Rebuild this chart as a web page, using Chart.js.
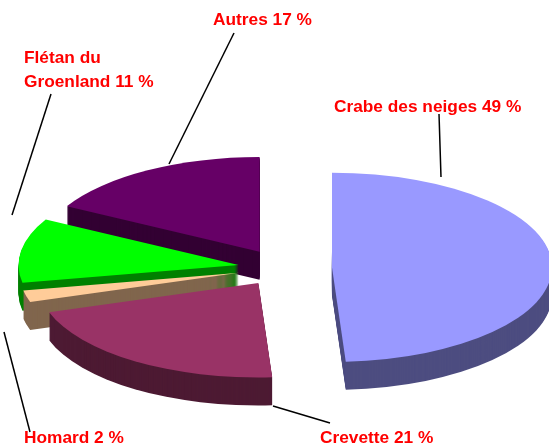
<!DOCTYPE html>
<html lang="fr">
<head>
<meta charset="utf-8">
<script src="https://cdn.jsdelivr.net/npm/chart.js@4"></script>
<style>
  html, body { margin: 0; padding: 0; background: #fff; }
</style>
</head>
<body>
<canvas id="graphique" width="549" height="447"></canvas>
<script>
// Répartition des débarquements (en %)
const categories = ['Crabe des neiges', 'Crevette', 'Homard', 'Flétan du Groenland', 'Autres'];
const valeurs = [49, 21, 2, 11, 17];

// couleurs du dessus et des côtés des tranches
const couleurs = ['#9999ff', '#993366', '#ffcc99', '#00ff00', '#660066'];
const couleursCote = ['#4d4d80', '#4d1a33', '#80664d', '#008000', '#330033'];
const eclatement = [50, 42, 44, 44, 44];

const inclinaison = 0.43;
const epaisseur = 28;

// position des étiquettes et des traits de rappel
const etiquettes = [
  { x: 334, y: 112, trait: [439, 114, 441, 177] },
  { x: 320, y: 443, trait: [273, 406, 330, 423] },
  { x: 24, y: 443, trait: [4, 332, 30, 432] },
  { x: 24, y: 63, trait: [51, 94, 12, 215], coupe: 2 },
  { x: 213, y: 25, trait: [234, 33, 169, 164] }
];

// trace une tranche à partir de la géométrie calculée par Chart.js
function tranche(ctx, arc) {
  const { x, y, startAngle, endAngle, outerRadius } =
    arc.getProps(['x', 'y', 'startAngle', 'endAngle', 'outerRadius'], true);
  const milieu = (startAngle + endAngle) / 2;
  const ox = x + Math.cos(milieu) * arc.options.offset;
  const oy = y + Math.sin(milieu) * arc.options.offset;
  ctx.beginPath();
  ctx.moveTo(ox, oy);
  ctx.arc(ox, oy, outerRadius, startAngle, endAngle);
  ctx.closePath();
  ctx.fill();
}

// écrase le camembert verticalement pour l'effet 3D
function aplatir(ctx, chart, k) {
  const a = chart.chartArea;
  const cx = (a.left + a.right) / 2, cy = (a.top + a.bottom) / 2;
  ctx.translate(cx, cy + k);
  ctx.scale(1, inclinaison);
  ctx.translate(-cx, -cy);
}

const camembert3D = {
  id: 'camembert3D',
  beforeDatasetsDraw(chart) {
    const ctx = chart.ctx;
    const arcs = chart.getDatasetMeta(0).data;
    const ordre = [4, 0, 3, 2, 1];
    ordre.forEach(i => {
      ctx.fillStyle = couleursCote[i];
      for (let k = epaisseur; k > 0; k--) {
        ctx.save();
        aplatir(ctx, chart, k);
        tranche(ctx, arcs[i]);
        ctx.restore();
      }
    });
    ordre.forEach(i => {
      ctx.save();
      aplatir(ctx, chart, 0);
      ctx.fillStyle = couleurs[i];
      tranche(ctx, arcs[i]);
      ctx.restore();
    });
    return false;
  },
  afterDraw(chart) {
    const ctx = chart.ctx;
    ctx.save();
    ctx.strokeStyle = '#000';
    ctx.lineWidth = 1.5;
    ctx.fillStyle = '#ff0000';
    ctx.font = 'bold 17.3px "Liberation Sans", Arial, sans-serif';
    etiquettes.forEach((e, i) => {
      const [x1, y1, x2, y2] = e.trait;
      ctx.beginPath();
      ctx.moveTo(x1, y1);
      ctx.lineTo(x2, y2);
      ctx.stroke();
      const texte = `${categories[i]} ${valeurs[i]} %`;
      const mots = texte.split(' ');
      const lignes = e.coupe
        ? [mots.slice(0, e.coupe).join(' '), mots.slice(e.coupe).join(' ')]
        : [texte];
      lignes.forEach((l, j) => ctx.fillText(l, e.x, e.y + j * 24));
    });
    ctx.restore();
  }
};

new Chart(document.getElementById('graphique'), {
  type: 'pie',
  data: {
    labels: categories,
    datasets: [{
      data: valeurs,
      backgroundColor: couleurs,
      offset: eclatement,
      borderWidth: 0
    }]
  },
  options: {
    responsive: false,
    animation: false,
    events: [],
    radius: 220,
    layout: { padding: { left: 15, right: 0, top: 89, bottom: 0 } },
    plugins: {
      legend: { display: false },
      tooltip: { enabled: false }
    }
  },
  plugins: [camembert3D]
});
</script>
</body>
</html>
